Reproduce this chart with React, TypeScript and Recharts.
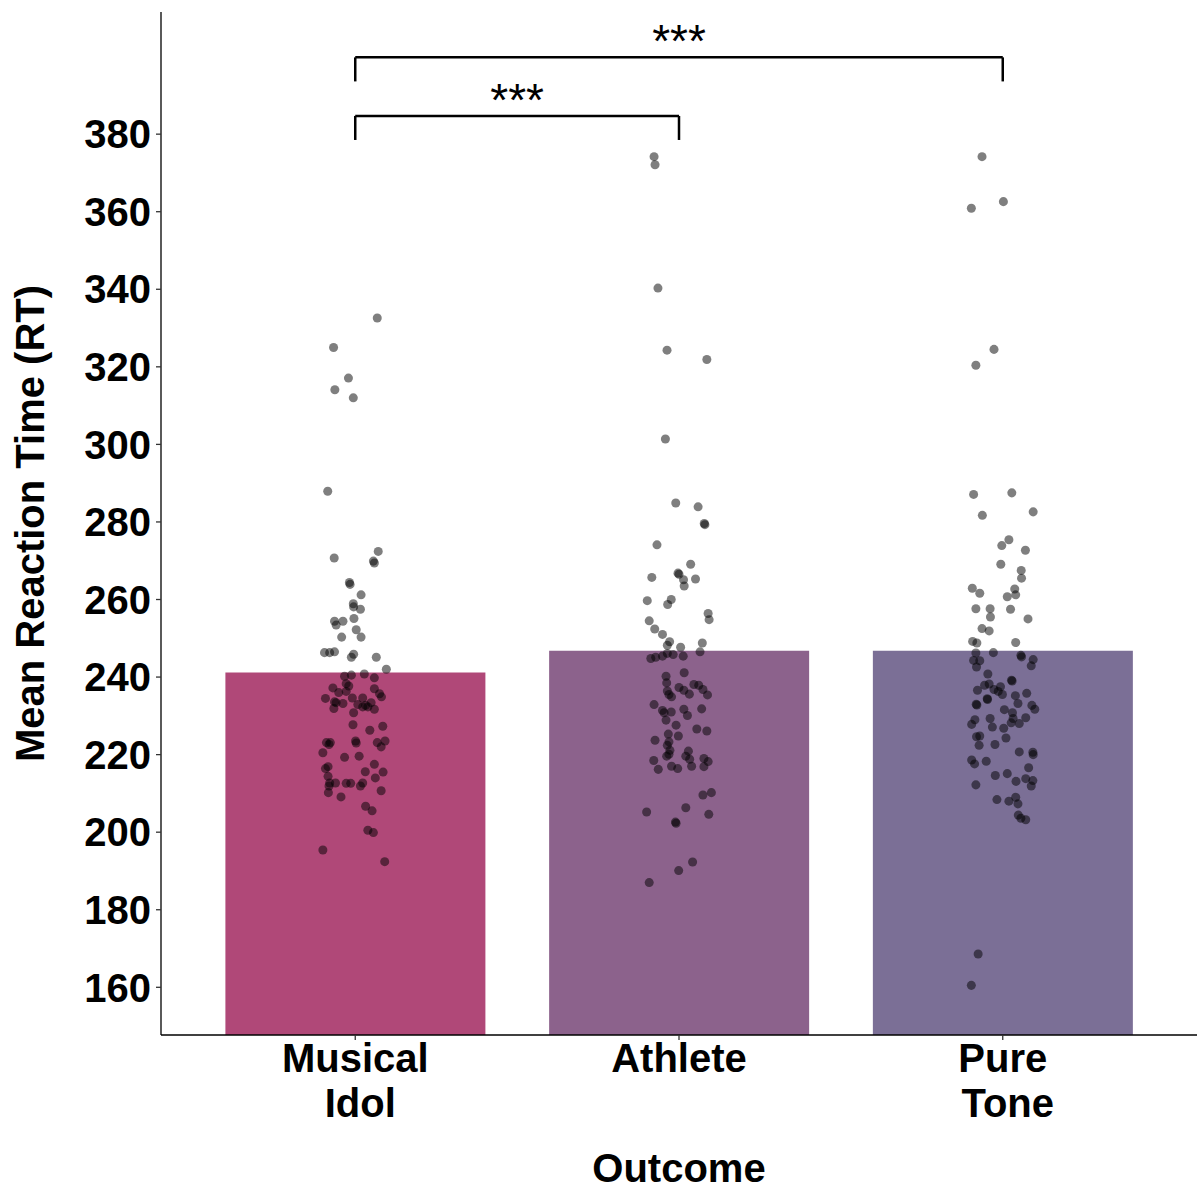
import React from "react";
import { ComposedChart, Bar, Scatter, XAxis, YAxis, ReferenceLine, Cell } from "recharts";

const FONT = "'Liberation Sans', Arial, Helvetica, sans-serif";

const categories = ["Musical Idol", "Athlete", "Pure Tone"];
const categoryLines = [["Musical", "Idol"], ["Athlete"], ["Pure", "Tone"]];
const meanRT = [241.2, 246.8, 246.8];
const barColors = ["#B04878", "#8C628C", "#7B6F96"];
const yTicks = [160, 180, 200, 220, 240, 260, 280, 300, 320, 340, 360, 380];

const idolRT = [
  332.6, 325.0, 317.1, 314.1, 312.0, 287.9, 270.7, 272.4, 269.9, 269.4,
  264.4, 263.9, 261.2, 258.9, 258.1, 257.5, 254.4, 253.4, 254.4, 255.1,
  252.2, 250.3, 250.3, 246.3, 246.3, 246.5, 245.1, 245.9, 245.1, 242.0,
  240.2, 240.5, 240.8, 239.8, 238.3, 237.7, 237.2, 236.0, 236.3, 237.0,
  235.7, 234.9, 234.5, 233.6, 233.4, 233.2, 234.6, 234.6, 232.9, 232.3,
  232.7, 232.3, 233.4, 231.7, 231.9, 230.8, 227.7, 226.3, 227.3, 223.1,
  222.6, 223.1, 220.5, 223.5, 223.0, 223.1, 223.5, 222.0, 219.3, 219.6,
  216.9, 216.4, 217.5, 215.6, 215.5, 214.4, 212.7, 212.7, 211.9, 212.6,
  212.6, 212.7, 211.9, 214.0, 210.2, 209.1, 210.7, 206.7, 205.5, 200.5,
  199.9, 195.4, 192.4,
];
const idolJitter = [
  0.068, -0.067, -0.021, -0.063, -0.006, -0.085, -0.065, 0.071, 0.056, 0.059,
  -0.018, -0.016, 0.018, -0.006, -0.005, 0.016, -0.064, -0.059, -0.038, -0.004,
  0.003, -0.042, 0.018, -0.095, -0.079, -0.064, -0.012, -0.005, 0.065, 0.096,
  -0.033, -0.012, 0.028, 0.059, -0.028, -0.02, -0.069, -0.051, -0.028, 0.059,
  0.075, 0.081, -0.092, -0.064, -0.059, -0.038, -0.009, 0.023, 0.008, 0.023,
  0.032, 0.039, 0.049, 0.059, -0.066, -0.005, -0.007, 0.045, 0.085, -0.089,
  -0.081, -0.077, -0.1, 0.001, 0.003, 0.068, 0.092, 0.08, -0.033, 0.012,
  -0.084, -0.092, 0.059, 0.031, 0.086, -0.084, -0.079, -0.061, -0.081, -0.028,
  -0.014, 0.023, 0.016, 0.062, -0.083, -0.044, 0.08, 0.032, 0.052, 0.039,
  0.056, -0.1, 0.091,
];

const athleteRT = [
  374.2, 372.1, 340.3, 324.3, 321.9, 301.4, 284.9, 283.9, 279.6, 279.3,
  274.1, 269.1, 265.7, 266.8, 266.5, 265.1, 263.5, 265.3, 259.7, 260.0,
  258.7, 256.4, 254.8, 254.5, 252.4, 251.0, 249.1, 248.2, 247.7, 248.8,
  246.5, 244.8, 245.1, 245.4, 246.1, 245.8, 245.4, 240.2, 241.1, 238.5,
  237.3, 236.4, 235.5, 234.9, 236.6, 235.6, 238.1, 237.9, 236.8, 235.4,
  232.9, 231.4, 230.8, 231.0, 231.7, 230.1, 231.8, 228.9, 227.6, 226.6,
  226.1, 223.7, 225.3, 224.8, 223.3, 222.4, 221.1, 220.1, 220.9, 219.6,
  218.8, 219.6, 218.5, 216.2, 217.0, 216.4, 217.0, 219.0, 218.2, 216.9,
  209.6, 210.2, 205.2, 206.3, 204.6, 202.6, 202.3, 192.3, 190.1, 187.0,
];
const athleteJitter = [
  -0.077, -0.074, -0.065, -0.037, 0.086, -0.042, -0.01, 0.059, 0.078, 0.08,
  -0.068, 0.036, -0.084, -0.003, 0.0, 0.014, 0.016, 0.051, -0.098, -0.024,
  -0.035, 0.09, 0.093, -0.092, -0.075, -0.051, -0.029, -0.036, 0.005, 0.072,
  0.065, -0.087, -0.072, -0.051, -0.036, -0.018, 0.013, -0.04, 0.016, -0.038,
  0.0, -0.036, -0.031, -0.023, 0.015, 0.032, 0.046, 0.061, 0.074, 0.088,
  -0.077, -0.051, -0.046, -0.024, 0.015, 0.026, 0.07, -0.04, -0.009, 0.055,
  0.086, -0.074, -0.033, -0.002, -0.031, -0.036, -0.028, -0.031, 0.029, 0.021,
  0.033, -0.038, -0.078, -0.064, -0.023, -0.004, 0.039, 0.077, 0.09, 0.077,
  0.074, 0.1, -0.1, 0.021, 0.092, -0.011, -0.009, 0.042, -0.001, -0.092,
];

const toneRT = [
  374.2, 360.9, 362.6, 324.5, 320.4, 287.1, 287.5, 281.7, 282.6, 275.4,
  273.9, 272.7, 269.1, 267.5, 265.5, 262.9, 261.6, 262.7, 261.2, 260.7,
  257.6, 257.6, 257.5, 255.5, 255.0, 252.5, 251.9, 249.2, 248.8, 248.9,
  246.2, 246.3, 245.6, 245.2, 244.5, 244.3, 244.2, 242.6, 242.9, 240.8,
  237.9, 238.2, 239.2, 239.0, 236.6, 236.8, 237.5, 236.3, 235.5, 235.2,
  235.8, 233.0, 232.8, 234.4, 234.2, 233.2, 232.7, 231.7, 231.6, 230.8,
  229.3, 228.2, 228.0, 229.5, 229.0, 227.8, 229.3, 227.1, 226.8, 224.3,
  224.6, 224.8, 222.4, 222.6, 220.7, 220.6, 220.0, 218.6, 217.6, 218.3,
  216.6, 214.6, 215.1, 213.8, 213.3, 211.9, 213.1, 212.2, 208.4, 208.0,
  209.0, 207.3, 204.4, 203.6, 203.2, 168.6, 160.5,
];
const toneJitter = [
  -0.064, -0.097, 0.002, -0.027, -0.083, -0.09, 0.028, -0.063, 0.094, 0.019,
  -0.003, 0.07, -0.006, 0.057, 0.058, -0.094, -0.071, 0.037, 0.04, 0.014,
  -0.083, -0.039, 0.024, -0.038, 0.078, -0.064, -0.042, -0.093, -0.08, 0.04,
  -0.083, -0.029, 0.056, 0.058, 0.094, -0.09, -0.071, -0.081, 0.088, -0.046,
  -0.056, -0.042, 0.027, 0.029, -0.078, -0.027, -0.007, -0.014, -0.001, 0.039,
  0.074, -0.082, -0.08, -0.048, -0.047, 0.047, 0.09, 0.099, 0.005, 0.03,
  0.032, 0.026, 0.051, 0.071, -0.086, -0.096, -0.039, -0.032, 0.003, 0.01,
  -0.081, -0.071, -0.073, -0.024, 0.051, 0.093, 0.094, -0.096, -0.087, -0.051,
  0.08, -0.023, 0.014, 0.071, 0.093, 0.088, 0.041, -0.083, -0.018, 0.019,
  0.04, 0.047, 0.048, 0.056, 0.071, -0.076, -0.097,
];

// significance brackets
const bracketFrom = [1, 1];
const bracketTo = [2, 3];
const bracketLevel = [384.7, 399.8];
const bracketTickEnd = [378.5, 393.6];
const bracketText = ["***", "***"];

const barData = categories.map((name, i) => ({ x: i + 1, name, mean: meanRT[i] }));
const groups = [
  { rt: idolRT, jit: idolJitter },
  { rt: athleteRT, jit: athleteJitter },
  { rt: toneRT, jit: toneJitter },
];
const pointSets = groups.map((g, gi) => g.rt.map((v, k) => ({ x: gi + 1 + g.jit[k], y: v })));

const XTick = (props: any) => {
  const { x, y, payload } = props;
  const lines = categoryLines[Math.round(payload.value) - 1] || [];
  return (
    <text
      x={x}
      y={y}
      textAnchor="middle"
      fontFamily={FONT}
      fontWeight="bold"
      fontSize={40}
      fill="#000"
    >
      {lines.map((l, i) => (
        <tspan key={i} x={x + (i === 0 ? 0 : 5)} dy={i === 0 ? 30 : 45}>
          {l}
        </tspan>
      ))}
    </text>
  );
};

const YTitle = (props: any) => {
  const vb = props.viewBox || {};
  const cx = (vb.x || 0) + 44;
  const cy = (vb.y || 0) + (vb.height || 0) / 2;
  return (
    <text
      x={cx}
      y={cy}
      transform={`rotate(-90, ${cx}, ${cy})`}
      textAnchor="middle"
      fontFamily={FONT}
      fontWeight="bold"
      fontSize={40}
      fill="#000"
    >
      Mean Reaction Time (RT)
    </text>
  );
};

export default function App() {
  return (
    <div style={{ position: "absolute", left: 0, top: 0, width: 1198, height: 1190, background: "#fff" }}>
      <ComposedChart
        width={1198}
        height={1190}
        data={barData}
        margin={{ top: 12, right: 1, bottom: 0, left: 0 }}
      >
        <XAxis
          xAxisId="cat"
          type="category"
          dataKey="name"
          hide
          height={0}
          padding={{ left: 32.4, right: 32.4 }}
        />
        <XAxis
          xAxisId="num"
          type="number"
          dataKey="x"
          domain={[0.4, 3.6]}
          ticks={[1, 2, 3]}
          allowDecimals
          height={155}
          tickSize={5}
          tickMargin={2}
          tick={<XTick />}
          axisLine={{ stroke: "#000", strokeWidth: 1.3 }}
          tickLine={{ stroke: "#333", strokeWidth: 1.3 }}
          label={{
            value: "Outcome",
            position: "insideBottom",
            offset: 8,
            fontFamily: FONT,
            fontWeight: "bold",
            fontSize: 40,
            fill: "#000",
          }}
        />
        <YAxis
          type="number"
          domain={[147.7, 411.5]}
          ticks={yTicks}
          width={161}
          tickSize={5}
          tickMargin={5}
          axisLine={{ stroke: "#000", strokeWidth: 1.3 }}
          tickLine={{ stroke: "#333", strokeWidth: 1.3 }}
          tick={{ fontFamily: FONT, fontWeight: "bold", fontSize: 40, fill: "#000" }}
          label={<YTitle />}
        />
        <Bar xAxisId="cat" dataKey="mean" barSize={260} isAnimationActive={false}>
          {barData.map((d, i) => (
            <Cell key={d.name} fill={barColors[i]} />
          ))}
        </Bar>
        {pointSets.map((pts, i) => (
          <Scatter
            key={categories[i]}
            xAxisId="num"
            data={pts}
            dataKey="y"
            fill="#000"
            fillOpacity={0.5}
            isAnimationActive={false}
          />
        ))}
        {bracketLevel.map((lvl, i) => (
          <ReferenceLine
            key={`h${i}`}
            xAxisId="num"
            segment={[
              { x: bracketFrom[i], y: lvl },
              { x: bracketTo[i], y: lvl },
            ]}
            stroke="#000"
            strokeWidth={2.5}
            label={{
              value: bracketText[i],
              position: "top",
              offset: 0,
              fontFamily: FONT,
              fontSize: 46,
              fill: "#000",
            }}
          />
        ))}
        {bracketLevel.map((lvl, i) => (
          <ReferenceLine
            key={`l${i}`}
            xAxisId="num"
            segment={[
              { x: bracketFrom[i], y: lvl },
              { x: bracketFrom[i], y: bracketTickEnd[i] },
            ]}
            stroke="#000"
            strokeWidth={2.5}
          />
        ))}
        {bracketLevel.map((lvl, i) => (
          <ReferenceLine
            key={`r${i}`}
            xAxisId="num"
            segment={[
              { x: bracketTo[i], y: lvl },
              { x: bracketTo[i], y: bracketTickEnd[i] },
            ]}
            stroke="#000"
            strokeWidth={2.5}
          />
        ))}
      </ComposedChart>
    </div>
  );
}
